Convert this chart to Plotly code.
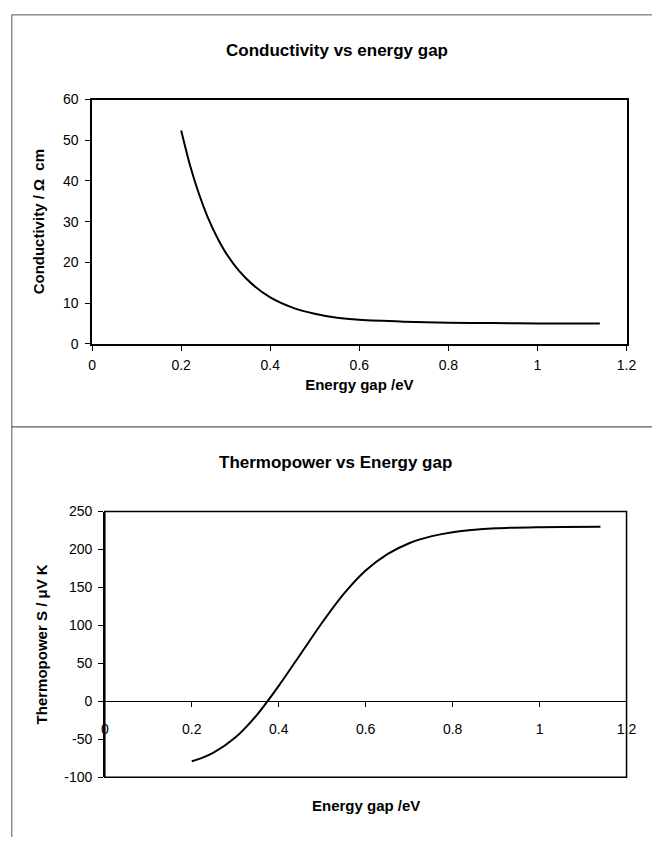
import plotly.graph_objects as go

# Conductivity against energy gap
gap_cond = [0.20, 0.22, 0.24, 0.26, 0.28, 0.30, 0.33, 0.36, 0.40, 0.45,
            0.50, 0.55, 0.60, 0.70, 0.80, 0.90, 1.00, 1.14]
conductivity = [52.4, 43.8, 36.8, 31.0, 26.3, 22.4, 17.9, 14.6, 11.4, 8.9,
                7.4, 6.4, 5.9, 5.45, 5.2, 5.1, 5.0, 4.96]

# Thermopower against energy gap
gap_thermo = [0.20, 0.225, 0.25, 0.30, 0.35, 0.40, 0.45, 0.50, 0.55, 0.60, 0.65,
              0.70, 0.75, 0.80, 0.90, 1.00, 1.14]
thermopower = [-79.0, -74.3, -67.8, -47.8, -17.8, 20.3, 62.0, 103.8, 141.8, 172.3, 194.0,
               208.3, 217.3, 222.9, 228.0, 229.5, 230.0]

x_ticks = [0, 0.2, 0.4, 0.6, 0.8, 1.0, 1.2]
x_tick_text = ["0", "0.2", "0.4", "0.6", "0.8", "1", "1.2"]
y1_ticks = [0, 10, 20, 30, 40, 50, 60]
y2_ticks = [-100, -50, 0, 50, 100, 150, 200, 250]
y2_tick_text = ["-100", "-50", "0", "50", "100", "150", "200", "250"]

W, H = 662, 845
FONT = "Liberation Sans, Arial, sans-serif"

def px_x(p):
    return p / W

def px_y(p):
    return 1 - p / H

top_dom_x = [px_x(90), px_x(636)]
top_dom_y = [px_y(342.3), px_y(93.3)]
bot_dom_x = [px_x(103), px_x(636)]
bot_dom_y = [px_y(784), px_y(513.3)]

y2_range = [-100, 250]
zero_frac = (0 - y2_range[0]) / (y2_range[1] - y2_range[0])
zero_pos = bot_dom_y[0] + zero_frac * (bot_dom_y[1] - bot_dom_y[0])

fig = go.Figure()
fig.add_trace(go.Scatter(x=gap_cond, y=conductivity, mode="lines",
                         line=dict(color="black", width=2, shape="spline", smoothing=0.8),
                         xaxis="x", yaxis="y", showlegend=False))
fig.add_trace(go.Scatter(x=gap_thermo, y=thermopower, mode="lines",
                         line=dict(color="black", width=2, shape="spline", smoothing=0.8),
                         xaxis="x2", yaxis="y2", showlegend=False))

tickfont = dict(family=FONT, size=14, color="black")
titlefont = dict(family=FONT, size=15, color="black", weight="bold")
headfont = dict(family=FONT, size=17, color="black", weight="bold")

fig.update_layout(
    width=W, height=H,
    margin=dict(l=0, r=0, t=0, b=0),
    paper_bgcolor="white", plot_bgcolor="white",
    font=dict(family=FONT, color="black"),
    xaxis=dict(domain=top_dom_x, anchor="y", range=[0, 1.2],
               tickvals=x_ticks, ticktext=x_tick_text,
               showline=True, linecolor="black", linewidth=1.5, mirror=True,
               ticks="outside", ticklen=5, tickcolor="black", tickwidth=1,
               showgrid=False, zeroline=False, tickfont=tickfont,
               ticklabelstandoff=3,
               title=dict(text="Energy gap /eV", font=titlefont, standoff=7)),
    yaxis=dict(domain=top_dom_y, anchor="x", range=[0, 60],
               tickvals=y1_ticks,
               showline=True, linecolor="black", linewidth=1.5, mirror=True,
               ticks="outside", ticklen=5, tickcolor="black", tickwidth=1,
               showgrid=False, zeroline=False, tickfont=tickfont,
               ticklabelstandoff=4,
               title=dict(text="Conductivity / \u03a9  cm", font=titlefont, standoff=15)),
    xaxis2=dict(domain=bot_dom_x, anchor="free", position=zero_pos,
                range=[0, 1.2], tickvals=x_ticks, ticktext=x_tick_text,
                showline=True, linecolor="black", linewidth=1,
                ticks="outside", ticklen=5, tickcolor="black", tickwidth=1,
                showgrid=False, zeroline=False, tickfont=tickfont,
                ticklabelstandoff=10),
    yaxis2=dict(domain=bot_dom_y, anchor="x2", range=y2_range,
                tickvals=y2_ticks, ticktext=y2_tick_text,
                showline=True, linecolor="black", linewidth=1.5,
                ticks="outside", ticklen=5, tickcolor="black", tickwidth=1,
                showgrid=False, zeroline=False, tickfont=tickfont,
                ticklabelstandoff=3,
                title=dict(text="Thermopower S / \u03bcV K", font=titlefont, standoff=13)),
    shapes=[
        # frame round the thermopower plot area
        dict(type="rect", xref="x2 domain", yref="y2 domain", x0=0, x1=1, y0=0, y1=1,
             line=dict(color="black", width=1.5)),
        # chart-area borders
        dict(type="line", xref="paper", yref="paper", x0=px_x(8), x1=1,
             y0=px_y(7), y1=px_y(7), line=dict(color="#555", width=1)),
        dict(type="line", xref="paper", yref="paper", x0=px_x(8), x1=px_x(8),
             y0=px_y(7), y1=0, line=dict(color="#555", width=1)),
        dict(type="line", xref="paper", yref="paper", x0=px_x(8), x1=1,
             y0=px_y(427), y1=px_y(427), line=dict(color="#333", width=1)),
    ],
    annotations=[
        dict(text="Conductivity vs energy gap", xref="paper", yref="paper",
             x=px_x(340), y=px_y(43), xanchor="center", yanchor="middle",
             showarrow=False, font=headfont),
        dict(text="Thermopower vs Energy gap", xref="paper", yref="paper",
             x=px_x(339), y=px_y(463), xanchor="center", yanchor="middle",
             showarrow=False, font=headfont),
        dict(text="Energy gap /eV", xref="x2 domain", yref="paper",
             x=0.5, y=px_y(813), xanchor="center", yanchor="middle",
             showarrow=False, font=titlefont),
    ],
)

fig.write_html("out.html")
